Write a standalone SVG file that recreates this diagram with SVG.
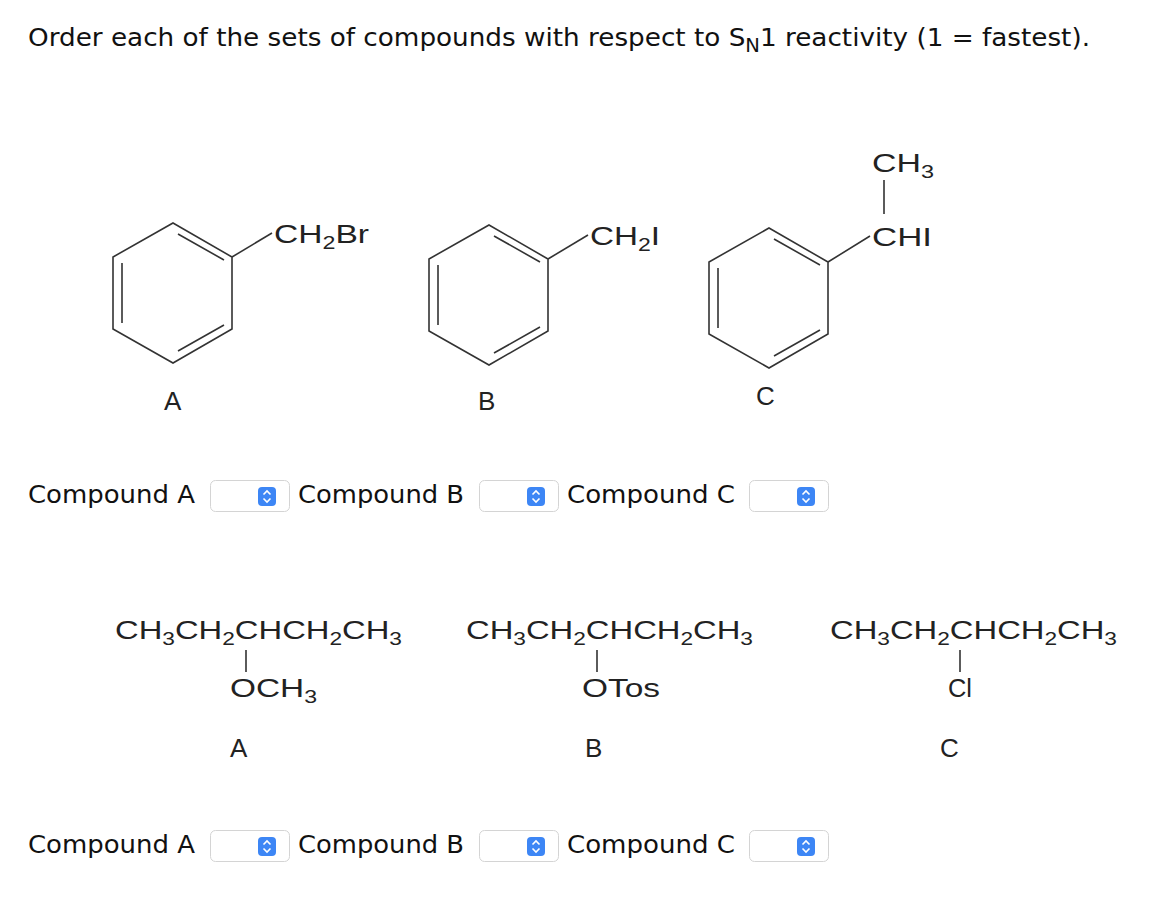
<svg xmlns="http://www.w3.org/2000/svg" width="1156" height="904" viewBox="0 0 1156 904">
<style>
.t{font-family:"DejaVu Sans",Verdana,sans-serif;font-size:25.5px;fill:#111}
.c{font-family:"Liberation Sans",Arial,sans-serif;font-size:26px;fill:#222}
.s{font-size:18px}
.ts{font-size:19px}
.b{fill:none;stroke:#333;stroke-width:1.6}
.box{fill:#fff;stroke:#d4d4d4;stroke-width:1}
.btn{fill:#3d86f5}
.ar{fill:none;stroke:#fff;stroke-width:1.6}
</style>
<defs>
<g id="sel"><rect class="box" x="0.5" y="0.5" width="79" height="31" rx="5"/><rect class="btn" x="48" y="7" width="18" height="19" rx="4"/><path class="ar" d="M53.5 14.5 L57 11 L60.5 14.5 M53.5 18.5 L57 22 L60.5 18.5"/></g>
<g id="hex"><path class="b" d="M0 0 L59 34 L59 106 L0 140 L-60 106 L-60 34 Z"/><path class="b" d="M5 11 L51 37 M51 102 L5 128 M-51 40 L-51 100"/></g>
</defs>
<text class="t" x="28" y="46" textLength="1062" lengthAdjust="spacingAndGlyphs">Order each of the sets of compounds with respect to S<tspan class="ts" dy="6">N</tspan><tspan dy="-6">1 reactivity (1 = fastest).</tspan></text>
<g id="cmpA"><use href="#hex" x="173" y="223"/><path class="b" d="M232 257 L272 233"/><text class="c" x="274" y="243" textLength="95" lengthAdjust="spacingAndGlyphs">CH<tspan class="s" dy="6">2</tspan><tspan dy="-6">Br</tspan></text><text class="c" x="164" y="410">A</text></g>
<g id="cmpB"><use href="#hex" x="489" y="225"/><path class="b" d="M548 259 L588 235"/><text class="c" x="590" y="245" textLength="70" lengthAdjust="spacingAndGlyphs">CH<tspan class="s" dy="6">2</tspan><tspan dy="-6">I</tspan></text><text class="c" x="478" y="410">B</text></g>
<g id="cmpC"><use href="#hex" x="769" y="228"/><path class="b" d="M828 262 L870 236 M884 180 L884 214"/><text class="c" x="872" y="172" textLength="62" lengthAdjust="spacingAndGlyphs">CH<tspan class="s" dy="6">3</tspan></text><text class="c" x="872" y="246" textLength="60" lengthAdjust="spacingAndGlyphs">CHI</text><text class="c" x="756" y="405">C</text></g>
<g id="row1">
<text class="t" x="28" y="503" textLength="167" lengthAdjust="spacingAndGlyphs">Compound A</text><use href="#sel" x="210" y="480"/>
<text class="t" x="298" y="503" textLength="166" lengthAdjust="spacingAndGlyphs">Compound B</text><use href="#sel" x="479" y="480"/>
<text class="t" x="567" y="503" textLength="168" lengthAdjust="spacingAndGlyphs">Compound C</text><use href="#sel" x="749" y="480"/>
</g>
<g id="cmpA2"><text class="c" x="115" y="639" textLength="287" lengthAdjust="spacingAndGlyphs">CH<tspan class="s" dy="6">3</tspan><tspan dy="-6">CH</tspan><tspan class="s" dy="6">2</tspan><tspan dy="-6">CHCH</tspan><tspan class="s" dy="6">2</tspan><tspan dy="-6">CH</tspan><tspan class="s" dy="6">3</tspan></text><path class="b" d="M246 650 L246 672"/><text class="c" x="230" y="697" textLength="87" lengthAdjust="spacingAndGlyphs">OCH<tspan class="s" dy="6">3</tspan></text><text class="c" x="230" y="757">A</text></g>
<g id="cmpB2"><text class="c" x="466" y="639" textLength="287" lengthAdjust="spacingAndGlyphs">CH<tspan class="s" dy="6">3</tspan><tspan dy="-6">CH</tspan><tspan class="s" dy="6">2</tspan><tspan dy="-6">CHCH</tspan><tspan class="s" dy="6">2</tspan><tspan dy="-6">CH</tspan><tspan class="s" dy="6">3</tspan></text><path class="b" d="M597 650 L597 672"/><text class="c" x="582" y="697" textLength="78" lengthAdjust="spacingAndGlyphs">OTos</text><text class="c" x="585" y="757">B</text></g>
<g id="cmpC2"><text class="c" x="830" y="639" textLength="287" lengthAdjust="spacingAndGlyphs">CH<tspan class="s" dy="6">3</tspan><tspan dy="-6">CH</tspan><tspan class="s" dy="6">2</tspan><tspan dy="-6">CHCH</tspan><tspan class="s" dy="6">2</tspan><tspan dy="-6">CH</tspan><tspan class="s" dy="6">3</tspan></text><path class="b" d="M960 650 L960 672"/><text class="c" x="948" y="697" textLength="24" lengthAdjust="spacingAndGlyphs">Cl</text><text class="c" x="940" y="757">C</text></g>
<g id="row2">
<text class="t" x="28" y="853" textLength="167" lengthAdjust="spacingAndGlyphs">Compound A</text><use href="#sel" x="210" y="830"/>
<text class="t" x="298" y="853" textLength="166" lengthAdjust="spacingAndGlyphs">Compound B</text><use href="#sel" x="479" y="830"/>
<text class="t" x="567" y="853" textLength="168" lengthAdjust="spacingAndGlyphs">Compound C</text><use href="#sel" x="749" y="830"/>
</g>
</svg>
